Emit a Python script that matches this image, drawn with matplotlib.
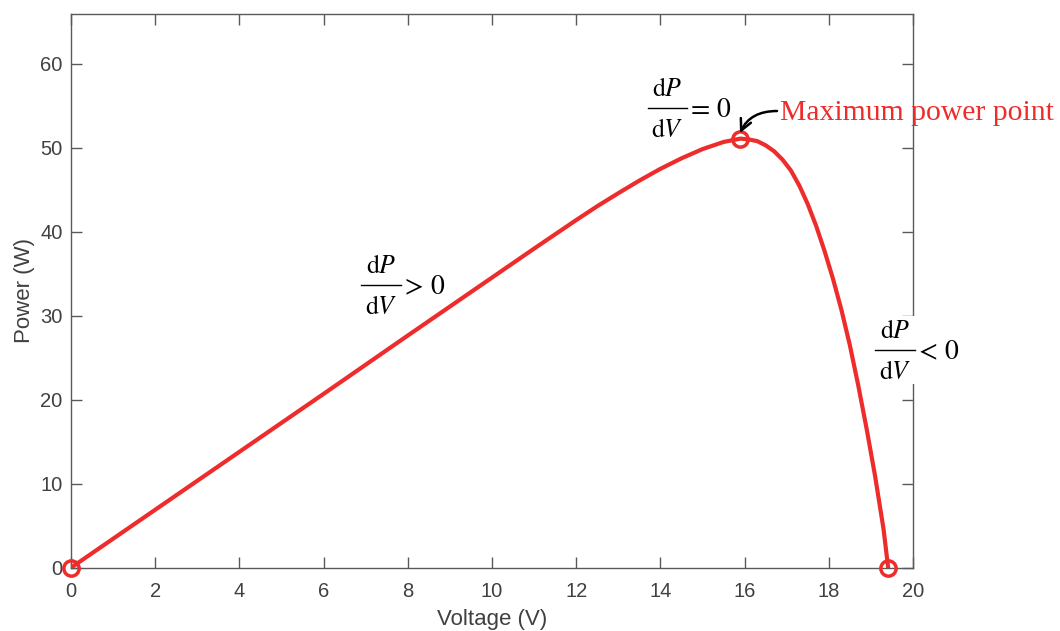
import matplotlib
matplotlib.use("Agg")
import matplotlib.pyplot as plt
from matplotlib.lines import Line2D

# ---- data ----
voltage = [0, 2, 4, 6, 8, 10, 11, 12, 12.5, 13, 13.5, 14, 14.5, 15, 15.5, 15.9,
           16.1, 16.3, 16.5, 16.7, 16.9, 17.1, 17.3, 17.5, 17.7, 17.9, 18.1,
           18.3, 18.5, 18.7, 18.9, 19.1, 19.3, 19.41]
power = [0, 6.9, 13.8, 20.7, 27.65, 34.55, 38.0, 41.4, 43.05, 44.6, 46.1, 47.5,
         48.75, 49.85, 50.7, 51.1,
         51.0, 50.8, 50.3, 49.6, 48.6, 47.3, 45.5, 43.3, 40.7, 37.7, 34.4,
         30.7, 26.5, 21.7, 16.5, 10.9, 4.6, 0]
marker_v = [0, 15.9, 19.41]
marker_p = [0, 51.1, 0]
xticks = [0, 2, 4, 6, 8, 10, 12, 14, 16, 18, 20]
yticks = [0, 10, 20, 30, 40, 50, 60]

RED = "#EE2C2C"
GRAY = "#5a5a5a"
LABEL = "#404040"
W, H = 1060, 631

plt.rcParams["mathtext.fontset"] = "stix"

fig = plt.figure(figsize=(W / 100, H / 100), dpi=100)
ax = fig.add_axes([71 / W, 1 - 567.7 / H, (913 - 71) / W, (567.7 - 13.5) / H])

ax.plot(voltage, power, color=RED, lw=3, solid_capstyle="round",
        solid_joinstyle="round", zorder=3)
ax.plot(marker_v, marker_p, linestyle="none", marker="o", ms=11, mfc="none",
        mec=RED, mew=2.5, zorder=4, clip_on=False)

ax.set_xlim(0, 20)
ax.set_ylim(0, 66)
ax.set_xticks(xticks)
ax.set_yticks(yticks)
ax.tick_params(direction="in", length=8, width=1, color=GRAY, labelcolor=LABEL,
               labelsize=14.5, top=True, right=True)
ax.tick_params(axis="x", pad=10)
ax.tick_params(axis="y", pad=6)
for s in ax.spines.values():
    s.set_color(GRAY)
    s.set_linewidth(1)
for lab in ax.get_xticklabels() + ax.get_yticklabels():
    lab.set_family("Liberation Sans")

ax.set_xlabel("Voltage (V)", fontsize=16, color=LABEL, family="Liberation Sans", labelpad=6)
ax.set_ylabel("Power (W)", fontsize=16, color=LABEL, family="Liberation Sans", labelpad=4)


def fx(px):
    return px / W


def fy(py):
    return 1 - py / H


FS = 18.5
FS_REL = 20


def fraction(x0, x1, ybar, rel, white=False):
    """Draw dP/dV <rel> 0 with bar from x0..x1 at pixel row ybar."""
    xc = (x0 + x1) / 2
    kw = dict(transform=fig.transFigure, color="black", zorder=6)
    if white:
        fig.patches.append(plt.Rectangle((fx(x0 - 2), fy(ybar + 34)), (x1 - x0 + 46) / W,
                                         68 / H, transform=fig.transFigure,
                                         facecolor="white", edgecolor="none", zorder=5))
    fig.text(fx(xc), fy(ybar - 6), r"$\mathrm{d}P$", ha="center", va="bottom",
             fontsize=FS, **kw)
    fig.text(fx(xc), fy(ybar + 9), r"$\mathrm{d}V$", ha="center", va="top",
             fontsize=FS, **kw)
    fig.lines.append(Line2D([fx(x0), fx(x1)], [fy(ybar), fy(ybar)],
                            transform=fig.transFigure, color="black", lw=1.0, zorder=6))
    fig.text(fx(x1 - 1), fy(ybar + 1), r"$" + rel + r"\,0$", ha="left", va="center",
             fontsize=FS_REL, **kw)


fraction(361, 401, 285, ">")
fraction(648, 687, 108, "=")
fraction(875, 915, 350, "<", white=True)

fig.text(fx(780), fy(113), "Maximum power point", fontsize=21.3, color=RED,
         family="Liberation Serif", ha="left", va="center", zorder=6)
ax.annotate("", xy=(fx(740), fy(133)), xycoords="figure fraction",
            xytext=(fx(777), fy(111)), textcoords="figure fraction",
            arrowprops=dict(arrowstyle="->", color="black", lw=1.8,
                            connectionstyle="angle3,angleA=0,angleB=65",
                            shrinkA=0, shrinkB=0, mutation_scale=20),
            annotation_clip=False, zorder=6)

fig.savefig("out.png", dpi=100)
